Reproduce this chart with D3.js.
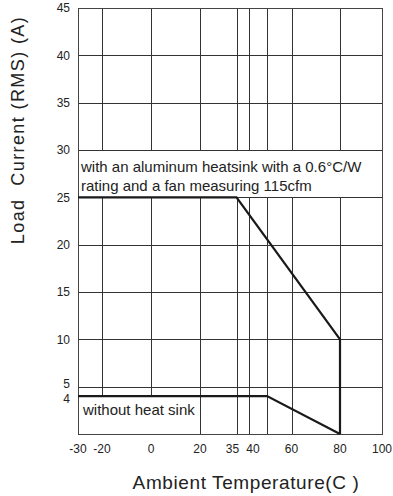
<!DOCTYPE html>
<html>
<head>
<meta charset="utf-8">
<script src="https://cdn.jsdelivr.net/npm/d3@7"></script>
<style>
  body { margin: 0; background: #fff; }
  text { font-family: "Liberation Sans", Arial, sans-serif; fill: #222; white-space: pre; }
</style>
</head>
<body>
<div id="chart"></div>
<script>
// temperature ticks (the axis is not evenly spaced in the original)
const xTicks = [-30, -20, 0, 20, 35, 40, 48, 60, 80, 100];
const xTickPos = [0, 24, 73, 122, 158.5, 171, 189, 213.5, 262, 304];
const xLabels = ['-30', '-20', '0', '20', '35', '40', '', '60', '80', '100'];
const yTicks = [4, 5, 10, 15, 20, 25, 30, 35, 40, 45];

const withHeatsink = [[-30, 25], [35, 25], [80, 10], [80, 0]];
const withoutHeatsink = [[-30, 4], [48, 4], [80, 0]];

const noteLines = ['with an aluminum heatsink with a 0.6°C/W', 'rating and a fan measuring 115cfm'];
const noteBottom = 'without heat sink';

const W = 393, H = 496;
const margin = { top: 8, right: 11, bottom: 62, left: 78 };
const iw = W - margin.left - margin.right;
const ih = H - margin.top - margin.bottom;

const svg = d3.select('#chart').append('svg')
  .attr('width', W).attr('height', H);

const g = svg.append('g').attr('transform', `translate(${margin.left},${margin.top})`);

const x = d3.scaleLinear().domain(xTicks).range(xTickPos);
const y = d3.scaleLinear().domain([0, 45]).range([ih, 0]);

// grid
g.append('g').selectAll('line').data(xTicks.slice(1, -1)).enter().append('line')
  .attr('x1', d => Math.round(x(d)) + 0.5).attr('x2', d => Math.round(x(d)) + 0.5)
  .attr('y1', 0).attr('y2', ih)
  .attr('stroke', '#333').attr('stroke-width', 1);

g.append('g').selectAll('line').data(yTicks.filter(d => d !== 45 && d !== 4)).enter().append('line')
  .attr('x1', 0).attr('x2', iw)
  .attr('y1', d => Math.round(y(d)) + 0.5).attr('y2', d => Math.round(y(d)) + 0.5)
  .attr('stroke', '#333').attr('stroke-width', 1);

// white boxes behind the notes
g.append('rect')
  .attr('x', 0).attr('y', Math.round(y(30)) + 1)
  .attr('width', iw).attr('height', Math.round(y(25)) - Math.round(y(30)) - 1)
  .attr('fill', '#fff');
g.append('rect')
  .attr('x', 0).attr('y', y(4))
  .attr('width', Math.round(x(20))).attr('height', ih - y(4))
  .attr('fill', '#fff');

// frame
g.append('rect')
  .attr('x', 0.5).attr('y', 0.5).attr('width', iw).attr('height', ih)
  .attr('fill', 'none').attr('stroke', '#444').attr('stroke-width', 1);

// tick labels
g.append('g').selectAll('text').data(yTicks).enter().append('text')
  .attr('x', -8).attr('y', d => y(d)).attr('dy', d => d === 5 ? '0.1em' : (d === 4 ? '0.55em' : '0.35em'))
  .attr('text-anchor', 'end').style('font-size', '12px')
  .text(d => d);

// 35 and 40 sit close together, nudge their labels apart
const nudge = { 35: -4, 40: 4 };
g.append('g').selectAll('text').data(xTicks).enter().append('text')
  .attr('x', d => x(d) + (nudge[d] || 0)).attr('y', ih + 19)
  .attr('text-anchor', 'middle').style('font-size', '12px')
  .text((d, i) => xLabels[i]);

// curves
const line = d3.line().x(d => x(d[0])).y(d => y(d[1]));
[withHeatsink, withoutHeatsink].forEach(s => {
  g.append('path').datum(s).attr('d', line)
    .attr('fill', 'none').attr('stroke', '#1a1a1a').attr('stroke-width', 2.2)
    .attr('stroke-linejoin', 'miter');
});

// notes
g.append('g').selectAll('text').data(noteLines).enter().append('text')
  .attr('x', 3).attr('y', (d, i) => y(30) + 22 + i * 19)
  .style('font-size', '15px').text(d => d);
g.append('text').attr('x', 5).attr('y', y(4) + 19)
  .style('font-size', '15px').text(noteBottom);

// axis titles
svg.append('text')
  .attr('transform', 'translate(24,130) rotate(-90)')
  .attr('text-anchor', 'middle').style('font-size', '18px').style('letter-spacing', '1.4px')
  .text('Load  Current (RMS) (A)');
svg.append('text')
  .attr('x', 246).attr('y', 489)
  .attr('text-anchor', 'middle').style('font-size', '19px').style('letter-spacing', '0.6px')
  .text('Ambient Temperature(C )');
</script>
</body>
</html>
